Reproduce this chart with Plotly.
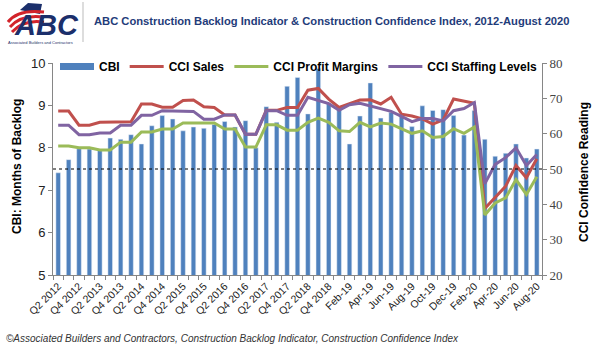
import plotly.graph_objects as go

# ---------------- data ----------------
quarters = [f"Q{q} {y}" for y in range(2012, 2019) for q in (1, 2, 3, 4)][1:]  # Q2 2012 .. Q4 2018
months = [f"{m}-{y}" for y in ("19", "20") for m in
          ("Jan", "Feb", "Mar", "Apr", "May", "Jun", "Jul", "Aug", "Sep", "Oct", "Nov", "Dec")][:20]
categories = quarters + months
tick_labels = [c if i % 2 == 0 else "" for i, c in enumerate(categories)]

cbi = [7.41, 7.72, 7.98, 7.97, 7.94, 8.23, 8.20, 8.31, 8.09, 8.52, 8.76, 8.68,
       8.40, 8.49, 8.46, 8.55, 8.62, 8.49, 8.64, 8.00, 8.97, 8.60, 9.45, 9.66,
       8.80, 9.87, 9.05, 8.92, 8.09, 8.75, 9.53, 8.70, 8.84, 8.74, 8.50, 8.99,
       8.88, 8.90, 8.76, 8.30, 8.88, 8.20, 7.80, 7.87, 8.09, 7.76, 7.97]

cci_sales = [66.4, 66.4, 62.4, 62.4, 63.2, 63.2, 63.4, 63.4, 68.4, 68.4, 67.5, 67.5,
             69.4, 69.5, 67.6, 67.4, 65.3, 65.3, 59.8, 59.8, 66.6, 66.6, 67.4, 67.4,
             72.3, 72.8, 69.8, 67.4, 68.5, 69.5, 69.6, 68.4, 70.3, 65.5, 65.0, 64.2,
             62.7, 63.9, 69.8, 69.1, 68.6, 38.8, 42.1, 45.1, 51.0, 47.5, 52.9]

cci_profit = [56.5, 56.5, 56.0, 56.0, 55.4, 55.4, 57.6, 57.6, 60.5, 60.5, 61.3, 61.3,
              63.0, 63.0, 63.0, 63.0, 61.3, 61.3, 56.2, 56.2, 62.5, 62.5, 61.0, 61.0,
              63.2, 64.4, 63.2, 60.8, 60.6, 63.2, 61.9, 63.0, 62.7, 61.5, 60.1, 60.8,
              58.9, 59.2, 61.4, 60.1, 61.9, 37.0, 40.4, 41.8, 47.0, 42.8, 47.8]

cci_staffing = [62.4, 62.4, 59.7, 59.7, 60.2, 60.2, 62.4, 62.4, 65.2, 65.2, 66.5, 66.5,
                66.3, 66.3, 64.1, 64.1, 65.3, 65.3, 59.8, 59.8, 66.5, 66.5, 65.2, 65.2,
                70.3, 69.5, 68.5, 66.6, 68.2, 68.6, 67.9, 67.2, 66.3, 64.9, 63.4, 64.3,
                64.3, 63.6, 66.5, 67.1, 68.8, 45.8, 51.3, 53.2, 56.0, 51.0, 54.1]

reference_cbi = 7.5

# ---------------- styling ----------------
BLUE = "#4F81BD"
RED = "#C0504D"
GREEN = "#9BBB59"
PURPLE = "#8064A2"
NAVY = "#1F3C7A"
AXIS = "#868686"
SANS = "Arial, Liberation Sans, sans-serif"
SERIF = "Times New Roman, Liberation Serif, serif"

W, H = 600, 355
ML, MR, MT, MB = 53, 58, 63, 80
PW, PH = W - ML - MR, H - MT - MB


def px(x):
    return (x - ML) / PW


def py(y):
    return (H - MB - y) / PH


fig = go.Figure()

fig.add_trace(go.Bar(x=categories, y=cbi, name="CBI", marker_color=BLUE,
                     showlegend=False, yaxis="y"))
# legend swatch for CBI drawn as a wide bar-like line (no data points)
fig.add_trace(go.Scatter(x=[None], y=[None], mode="lines", name="CBI",
                         line=dict(color=BLUE, width=7), yaxis="y"))
fig.add_trace(go.Scatter(x=categories, y=cci_sales, name="CCI Sales", mode="lines",
                         line=dict(color=RED, width=3), yaxis="y2"))
fig.add_trace(go.Scatter(x=categories, y=cci_profit, name="CCI Profit Margins", mode="lines",
                         line=dict(color=GREEN, width=3), yaxis="y2"))
fig.add_trace(go.Scatter(x=categories, y=cci_staffing, name="CCI Staffing Levels", mode="lines",
                         line=dict(color=PURPLE, width=3), yaxis="y2"))

shapes = [
    dict(type="line", xref="paper", yref="y", x0=0, x1=1, y0=reference_cbi, y1=reference_cbi,
         line=dict(color="black", width=1, dash="dot"), layer="above"),
    # separator between logo and title
    dict(type="line", xref="paper", yref="paper", x0=px(83), x1=px(83), y0=py(2), y1=py(42),
         line=dict(color="#BBBBBB", width=1)),
    # logo: navy field
    dict(type="path", xref="paper", yref="paper",
         path=f"M {px(20)} {py(10)} L {px(28)} {py(3)} L {px(42)} {py(4)} L {px(40)} {py(14)} Z",
         fillcolor="#1B2F6B", line=dict(width=0)),
]
# logo: red stripes
for off in (0, 5, 10):
    shapes.append(dict(type="path", xref="paper", yref="paper",
                       path=(f"M {px(8 + off * 0.4)} {py(22 + off)} "
                             f"Q {px(18 + off * 0.6)} {py(9 + off)} {px(44)} {py(12 + off)}"),
                       line=dict(color="#D2232A", width=3)))

annotations = [
    dict(text="ABC", xref="paper", yref="paper", x=px(46), y=py(25), xanchor="center", yanchor="middle",
         showarrow=False, font=dict(family=SANS, size=29, color="#1B2F6B", weight="bold", style="italic")),
    dict(text="Associated Builders and Contractors", xref="paper", yref="paper", x=px(40), y=py(42.5),
         xanchor="center", yanchor="middle", showarrow=False,
         font=dict(family=SANS, size=4, color="#1B2F6B")),
    dict(text="<b>ABC Construction Backlog Indicator &amp; Construction Confidence Index, 2012-August 2020</b>",
         xref="paper", yref="paper", x=px(92), y=py(21), xanchor="left", yanchor="middle",
         showarrow=False, font=dict(family=SANS, size=11.2, color=NAVY)),
    dict(text="<b>CBI: Months of Backlog</b>", xref="paper", yref="paper", x=px(17), y=py(167),
         xanchor="center", yanchor="middle", textangle=-90, showarrow=False,
         font=dict(family=SANS, size=12, color="black")),
    dict(text="<b>CCI Confidence Reading</b>", xref="paper", yref="paper", x=px(584), y=py(172),
         xanchor="center", yanchor="middle", textangle=-90, showarrow=False,
         font=dict(family=SANS, size=12, color="black")),
    dict(text="<i>©Associated Builders and Contractors, Construction Backlog Indicator, Construction Confidence Index</i>",
         xref="paper", yref="paper", x=px(4), y=py(338), xanchor="left", yanchor="middle",
         showarrow=False, font=dict(family=SANS, size=10, color="#333333")),
]

fig.update_layout(
    width=W, height=H,
    margin=dict(l=ML, r=MR, t=MT, b=MB, autoexpand=False),
    paper_bgcolor="white", plot_bgcolor="white",
    bargap=0.56,
    font=dict(family=SANS, size=11, color="black"),
    showlegend=True,
    legend=dict(orientation="h", x=px(55), y=py(52), xanchor="left", yanchor="top",
                font=dict(family=SANS, size=12, color="black", weight="bold"),
                bgcolor="rgba(0,0,0,0)", borderwidth=0, traceorder="normal",
                itemwidth=34),
    xaxis=dict(type="category", tickmode="array", tickvals=categories, ticktext=tick_labels,
               tickson="boundaries",
               tickangle=-45, tickfont=dict(family=SANS, size=10.5, color="#222222"),
               showline=True, linecolor=AXIS, linewidth=1, ticks="outside", ticklen=4,
               tickcolor=AXIS, showgrid=False, zeroline=False, range=[-0.5, len(categories) - 0.5]),
    yaxis=dict(range=[5, 10], dtick=1, tick0=5, showline=True, linecolor=AXIS, linewidth=1,
               ticks="outside", ticklen=4, tickcolor=AXIS, showgrid=False, zeroline=False,
               tickfont=dict(family=SANS, size=13, color="#222222")),
    yaxis2=dict(range=[20, 80], dtick=10, tick0=20, overlaying="y", side="right",
                showline=True, linecolor=AXIS, linewidth=1, ticks="outside", ticklen=4,
                tickcolor=AXIS, showgrid=False, zeroline=False,
                tickfont=dict(family=SERIF, size=13, color="#444444")),
    shapes=shapes,
    annotations=annotations,
)

fig.write_html("out.html",
               config={"displayModeBar": False},
               post_script="document.body.style.margin='0';document.body.style.overflow='hidden';")
